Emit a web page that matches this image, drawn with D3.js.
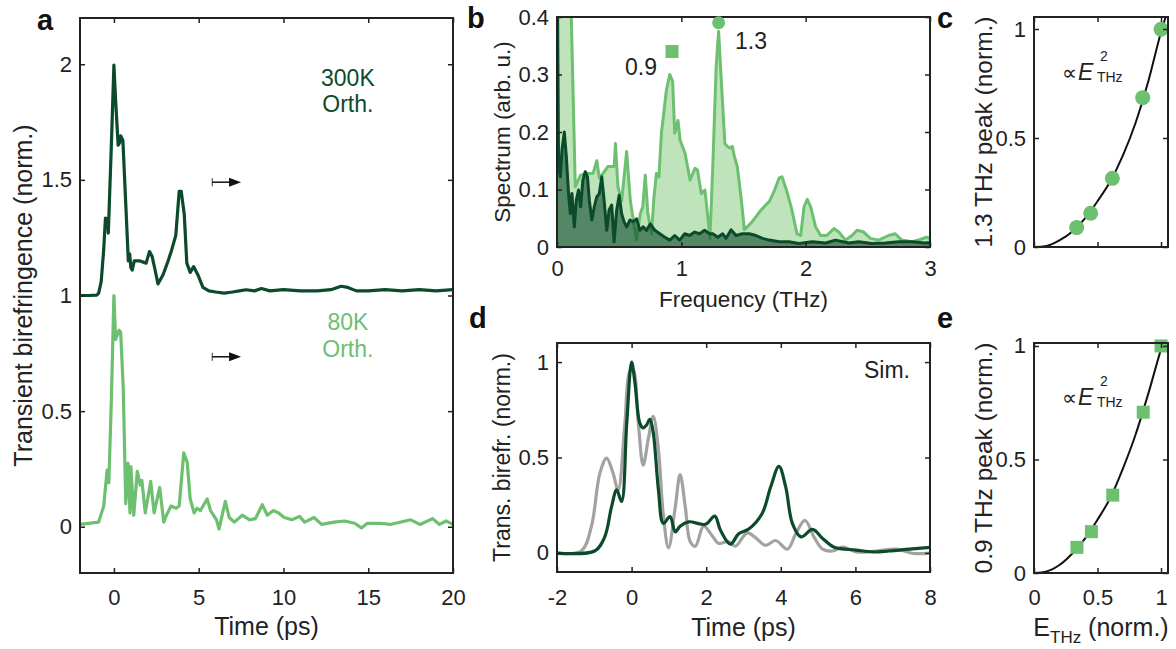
<!DOCTYPE html>
<html>
<head>
<meta charset="utf-8">
<script src="https://cdn.jsdelivr.net/npm/d3@7"></script>
<style>
  html, body { margin: 0; padding: 0; background: #fff; }
  svg { display: block; font-family: "Liberation Sans", Arial, sans-serif; }
</style>
</head>
<body>
<div id="chart"></div>
<script>
// ---- panel a : transient birefringence vs time ----
const a300Time = [-2, -1.5, -1.0, -0.9, -0.75, -0.6, -0.5, -0.38, -0.33, -0.16, 0, 0.1, 0.25, 0.33, 0.4, 0.53, 0.69, 0.85, 0.93, 1.0, 1.08, 1.2, 1.5, 1.9, 2.1, 2.25, 2.4, 2.6, 2.9, 3.2, 3.4, 3.65, 3.85, 3.97, 4.15, 4.3, 4.5, 4.7, 4.95, 5.25, 5.6, 6.0, 6.5, 7.0, 7.4, 7.8, 8.3, 8.7, 9.2, 10, 11, 12, 12.8, 13.4, 13.8, 14.3, 15, 16, 17, 18, 19, 20];
const a300Value = [1.0, 1.0, 1.002, 1.01, 1.06, 1.2, 1.335, 1.33, 1.27, 1.63, 1.996, 1.845, 1.65, 1.66, 1.69, 1.67, 1.41, 1.15, 1.18, 1.12, 1.11, 1.15, 1.15, 1.14, 1.19, 1.17, 1.12, 1.05, 1.09, 1.15, 1.195, 1.26, 1.45, 1.45, 1.35, 1.14, 1.10, 1.125, 1.09, 1.035, 1.02, 1.015, 1.01, 1.015, 1.02, 1.025, 1.02, 1.03, 1.02, 1.025, 1.02, 1.02, 1.025, 1.04, 1.035, 1.02, 1.02, 1.025, 1.02, 1.025, 1.02, 1.025];

const a80Time = [-2, -0.9, -0.6, -0.4, -0.3, -0.15, 0, 0.1, 0.3, 0.4, 0.55, 0.7, 0.83, 0.95, 1.0, 1.17, 1.38, 1.55, 1.65, 1.85, 2.17, 2.37, 2.7, 2.94, 3.1, 3.37, 3.67, 3.85, 4.12, 4.32, 4.5, 4.73, 4.9, 5.1, 5.5, 5.7, 6.05, 6.2, 6.57, 6.8, 7.1, 7.57, 8.0, 8.35, 8.75, 9.05, 9.4, 9.7, 10.05, 10.5, 10.95, 11.25, 11.8, 12.25, 13, 13.6, 14.2, 14.6, 14.95, 15.7, 16.3, 17.5, 18.05, 18.8, 19.2, 19.6, 20];
const a80Value = [0.01, 0.02, 0.09, 0.245, 0.19, 0.55, 1.0, 0.81, 0.85, 0.84, 0.6, 0.1, 0.275, 0.06, 0.26, 0.05, 0.24, 0.18, 0.2, 0.06, 0.196, 0.06, 0.17, 0.02, 0.05, 0.09, 0.08, 0.09, 0.32, 0.28, 0.12, 0.06, 0.08, 0.07, 0.12, 0.07, 0.03, -0.01, 0.11, 0.04, 0.02, 0.05, 0.03, 0.035, 0.095, 0.05, 0.07, 0.06, 0.04, 0.03, 0.045, 0.02, 0.04, 0.01, 0.02, 0.025, 0.015, -0.005, 0.015, 0.015, 0.01, 0.03, 0.01, 0.035, 0.01, 0.025, 0.01];

// ---- panel b : spectra ----
const b80Freq = [0, 0.105, 0.115, 0.147, 0.19, 0.24, 0.29, 0.32, 0.34, 0.37, 0.41, 0.46, 0.47, 0.49, 0.52, 0.56, 0.59, 0.61, 0.64, 0.67, 0.69, 0.71, 0.73, 0.76, 0.78, 0.80, 0.82, 0.84, 0.88, 0.907, 0.93, 0.947, 0.973, 0.99, 1.03, 1.07, 1.11, 1.13, 1.16, 1.19, 1.21, 1.23, 1.253, 1.28, 1.30, 1.315, 1.35, 1.37, 1.39, 1.41, 1.427, 1.45, 1.48, 1.507, 1.53, 1.57, 1.64, 1.71, 1.75, 1.787, 1.81, 1.85, 1.89, 1.93, 1.96, 1.987, 2.013, 2.04, 2.08, 2.12, 2.17, 2.227, 2.267, 2.32, 2.373, 2.413, 2.467, 2.52, 2.587, 2.667, 2.72, 2.773, 2.853, 2.92, 2.973, 3.0];
const b80Spec = [0.6, 0.6, 0.4, 0.105, 0.125, 0.128, 0.128, 0.15, 0.12, 0.128, 0.14, 0.14, 0.18, 0.105, 0.08, 0.166, 0.08, 0.052, 0.012, 0.058, 0.07, 0.125, 0.06, 0.023, 0.087, 0.128, 0.122, 0.198, 0.273, 0.30, 0.288, 0.198, 0.22, 0.186, 0.163, 0.116, 0.137, 0.134, 0.093, 0.099, 0.058, 0.015, 0.14, 0.314, 0.375, 0.314, 0.18, 0.175, 0.172, 0.175, 0.157, 0.14, 0.087, 0.03, 0.035, 0.044, 0.064, 0.08, 0.099, 0.12, 0.122, 0.096, 0.064, 0.023, 0.02, 0.07, 0.083, 0.07, 0.035, 0.02, 0.02, 0.032, 0.026, 0.012, 0.02, 0.029, 0.026, 0.015, 0.012, 0.02, 0.023, 0.012, 0.009, 0.013, 0.017, 0.015];

const b300Freq = [0, 0.005, 0.013, 0.027, 0.04, 0.059, 0.075, 0.093, 0.107, 0.12, 0.139, 0.155, 0.173, 0.19, 0.208, 0.227, 0.245, 0.26, 0.28, 0.30, 0.32, 0.34, 0.36, 0.379, 0.40, 0.419, 0.44, 0.459, 0.48, 0.50, 0.52, 0.539, 0.56, 0.587, 0.613, 0.64, 0.667, 0.693, 0.72, 0.75, 0.787, 0.827, 0.867, 0.907, 0.947, 0.987, 1.027, 1.067, 1.107, 1.147, 1.187, 1.227, 1.253, 1.293, 1.333, 1.36, 1.40, 1.44, 1.49, 1.547, 1.60, 1.653, 1.707, 1.787, 1.867, 1.947, 2.053, 2.16, 2.24, 2.347, 2.427, 2.533, 2.64, 2.747, 2.853, 2.96, 3.0];
const b300Spec = [0.6, 0.4, 0.14, 0.122, 0.169, 0.2, 0.157, 0.093, 0.058, 0.093, 0.035, 0.081, 0.099, 0.07, 0.116, 0.131, 0.122, 0.081, 0.047, 0.07, 0.087, 0.093, 0.122, 0.081, 0.029, 0.064, 0.073, 0.009, 0.064, 0.09, 0.058, 0.044, 0.035, 0.047, 0.044, 0.049, 0.029, 0.035, 0.029, 0.04, 0.029, 0.023, 0.017, 0.012, 0.02, 0.012, 0.023, 0.02, 0.026, 0.023, 0.029, 0.023, 0.023, 0.017, 0.023, 0.015, 0.03, 0.02, 0.023, 0.023, 0.02, 0.015, 0.012, 0.009, 0.009, 0.006, 0.009, 0.007, 0.012, 0.007, 0.009, 0.006, 0.007, 0.009, 0.009, 0.007, 0.008];

const bPeakSquare = [0.925, 0.34];
const bPeakCircle = [1.3, 0.39];

// ---- panels c & e : peak amplitude vs field ----
const cField = [0.336, 0.446, 0.617, 0.856, 1.0];
const cPeak = [0.089, 0.155, 0.315, 0.685, 0.999];
const cFitField = [0, 0.1, 0.2, 0.3, 0.4, 0.5, 0.6, 0.7, 0.8, 0.9, 1.0, 1.05];
const cFitPeak = [0, 0.005, 0.03, 0.07, 0.13, 0.21, 0.3, 0.42, 0.57, 0.76, 0.985, 1.08];

const eField = [0.338, 0.452, 0.62, 0.86, 1.0];
const ePeak = [0.113, 0.182, 0.343, 0.708, 1.0];
const eFitField = [0, 0.1, 0.2, 0.3, 0.4, 0.5, 0.6, 0.7, 0.8, 0.9, 1.0, 1.05];
const eFitPeak = [0, 0.007, 0.035, 0.085, 0.15, 0.235, 0.33, 0.46, 0.61, 0.79, 0.985, 1.07];

// ---- panel d : simulation ----
const dSimTime = [-2.07, -0.99, -0.72, -0.54, -0.4, -0.27, -0.13, 0, 0.09, 0.22, 0.31, 0.4, 0.49, 0.58, 0.72, 0.85, 1.03, 1.17, 1.3, 1.53, 1.98, 2.23, 2.38, 2.65, 2.87, 3.14, 3.5, 3.73, 3.95, 4.13, 4.31, 4.54, 4.85, 5.12, 5.43, 6.02, 6.47, 6.9, 7.45, 8.04];
const dSimValue = [0, 0.01, 0.084, 0.24, 0.33, 0.27, 0.68, 1.0, 0.89, 0.68, 0.655, 0.67, 0.70, 0.63, 0.33, 0.155, 0.19, 0.11, 0.14, 0.163, 0.15, 0.193, 0.12, 0.046, 0.1, 0.125, 0.207, 0.347, 0.453, 0.347, 0.155, 0.084, 0.123, 0.076, 0.03, 0.015, 0.005, 0.01, 0.02, 0.03];
const dRefTime = [-2.07, -1.35, -1.08, -0.85, -0.67, -0.5, -0.36, -0.18, -0.05, 0.04, 0.18, 0.31, 0.45, 0.58, 0.72, 0.85, 0.99, 1.17, 1.3, 1.44, 1.57, 1.71, 1.93, 2.16, 2.33, 2.6, 2.78, 3.1, 3.32, 3.59, 3.86, 4.18, 4.4, 4.65, 4.9, 5.12, 5.39, 5.66, 6.02, 6.56, 7.1, 7.55, 8.04];
const dRefValue = [0, 0.01, 0.137, 0.418, 0.497, 0.42, 0.33, 0.68, 0.95, 0.96, 0.68, 0.46, 0.6, 0.716, 0.54, 0.2, 0.026, 0.24, 0.41, 0.24, 0.06, 0.035, 0.14, 0.09, 0.05, 0.06, 0.035, 0.105, 0.08, 0.04, 0.065, 0.02, 0.1, 0.17, 0.08, 0.02, 0.01, 0.03, 0.005, 0.01, 0.02, -0.003, 0];

const darkGreen = '#0c4a2c';
const lightGreen = '#6cc070';
const grey = '#a2a2a2';
const ink = '#222';

const svg = d3.select('#chart').append('svg')
  .attr('width', 1176)
  .attr('height', 649);
svg.append('rect').attr('width', 1176).attr('height', 649).attr('fill', '#fff');

const zip = (xs, ys) => xs.map((v, i) => [v, ys[i]]);
let clipId = 0;

function makePanel(box, xDomain, yDomain) {
  const w = box.right - box.left;
  const h = box.bottom - box.top;
  const g = svg.append('g').attr('transform', `translate(${box.left},${box.top})`);
  const x = d3.scaleLinear().domain(xDomain).range([0, w]);
  const y = d3.scaleLinear().domain(yDomain).range([h, 0]);
  const id = 'clip' + (clipId++);
  g.append('clipPath').attr('id', id).append('rect').attr('width', w).attr('height', h);
  const plot = g.append('g').attr('clip-path', `url(#${id})`);
  return { g, plot, x, y, w, h, box };
}

function drawAxes(p, xTicks, yTicks, showXLabels, xPad) {
  const fmt = d => String(d);
  const styleAxis = sel => {
    sel.select('.domain').remove();
    sel.selectAll('line').attr('stroke', ink).attr('stroke-width', 1.5);
    sel.selectAll('text').attr('font-size', 22).attr('fill', ink)
      .attr('font-family', '"Liberation Sans", Arial, sans-serif');
  };
  p.g.append('g').attr('transform', `translate(0,${p.h})`)
    .call(d3.axisBottom(p.x).tickValues(xTicks).tickSizeInner(-5).tickSizeOuter(0)
      .tickPadding(xPad).tickFormat(showXLabels ? fmt : ''))
    .call(styleAxis);
  p.g.append('g')
    .call(d3.axisTop(p.x).tickValues(xTicks).tickSizeInner(-5).tickSizeOuter(0).tickFormat(''))
    .call(styleAxis);
  p.g.append('g')
    .call(d3.axisLeft(p.y).tickValues(yTicks).tickSizeInner(-5).tickSizeOuter(0)
      .tickPadding(8).tickFormat(fmt))
    .call(styleAxis);
  p.g.append('g').attr('transform', `translate(${p.w},0)`)
    .call(d3.axisRight(p.y).tickValues(yTicks).tickSizeInner(-5).tickSizeOuter(0).tickFormat(''))
    .call(styleAxis);
  p.g.append('rect')
    .attr('width', p.w).attr('height', p.h)
    .attr('fill', 'none').attr('stroke', ink).attr('stroke-width', 2);
}

function drawLine(p, pts, color, width, curve) {
  p.plot.append('path')
    .datum(pts)
    .attr('fill', 'none')
    .attr('stroke', color)
    .attr('stroke-width', width)
    .attr('stroke-linejoin', 'round')
    .attr('d', d3.line().x(d => p.x(d[0])).y(d => p.y(d[1])).curve(curve || d3.curveLinear));
}

function yLabel(p, text, baselineX, size) {
  svg.append('text')
    .attr('transform', `translate(${baselineX},${p.box.top + p.h / 2}) rotate(-90)`)
    .attr('text-anchor', 'middle')
    .attr('font-size', size).attr('fill', ink)
    .text(text);
}

function xLabel(p, text, baselineY, size) {
  svg.append('text')
    .attr('x', p.box.left + p.w / 2).attr('y', baselineY)
    .attr('text-anchor', 'middle')
    .attr('font-size', size).attr('fill', ink)
    .text(text);
}

function panelLetter(letter, x, y) {
  svg.append('text').attr('x', x).attr('y', y)
    .attr('font-size', 29).attr('font-weight', 'bold').attr('fill', '#111')
    .text(letter);
}

function note(x, y, text, color) {
  svg.append('text').attr('x', x).attr('y', y).attr('text-anchor', 'middle')
    .attr('font-size', 23).attr('fill', color || ink).text(text);
}

// "∝ E^2_THz" built from separate pieces so sub/superscript stack
function propLabel(p, fx, fy) {
  const px = p.box.left + p.x(fx);
  const py = p.box.top + p.y(fy);
  svg.append('text').attr('x', px).attr('y', py).attr('font-size', 21).attr('fill', ink).text('\u221D');
  svg.append('text').attr('x', px + 16).attr('y', py).attr('font-size', 23)
    .attr('font-style', 'italic').attr('fill', ink).text('E');
  svg.append('text').attr('x', px + 38).attr('y', py - 19).attr('font-size', 14).attr('fill', ink).text('2');
  svg.append('text').attr('x', px + 35).attr('y', py + 2).attr('font-size', 14).attr('fill', ink).text('THz');
}

// ======== panel a ========
const pa = makePanel({ left: 80, right: 453, top: 18, bottom: 573 }, [-2, 20], [-0.2, 2.2]);
drawLine(pa, zip(a80Time, a80Value), lightGreen, 3.2);
drawLine(pa, zip(a300Time, a300Value), darkGreen, 3.2);
drawAxes(pa, [0, 5, 10, 15, 20], [0, 0.5, 1, 1.5, 2], true, 16);
yLabel(pa, 'Transient birefringence (norm.)', 32, 25);
xLabel(pa, 'Time (ps)', 635, 25);
panelLetter('a', 37, 30);

// arrows
[1.49, 0.735].forEach(v => {
  const yy = pa.y(v);
  const x0 = pa.x(5.8), x1 = pa.x(7.5);
  pa.g.append('line').attr('x1', x0).attr('x2', x0).attr('y1', yy - 4).attr('y2', yy + 4)
    .attr('stroke', '#333').attr('stroke-width', 1);
  pa.g.append('line').attr('x1', x0).attr('x2', x1 - 10).attr('y1', yy).attr('y2', yy)
    .attr('stroke', '#111').attr('stroke-width', 1.5);
  pa.g.append('path').attr('d', `M${x1 - 12},${yy - 4.5}L${x1},${yy}L${x1 - 12},${yy + 4.5}Z`).attr('fill', '#111');
});

note(pa.box.left + pa.x(13.8), 86, '300K', darkGreen);
note(pa.box.left + pa.x(13.8), 112, 'Orth.', darkGreen);
note(pa.box.left + pa.x(13.8), 330, '80K', lightGreen);
note(pa.box.left + pa.x(13.8), 357, 'Orth.', lightGreen);

// ======== panel b ========
const pb = makePanel({ left: 557, right: 930, top: 17, bottom: 247 }, [0, 3], [0, 0.4]);
const areaB = d3.area().x(d => pb.x(d[0])).y0(pb.y(0)).y1(d => pb.y(d[1]));
pb.plot.append('path').datum(zip(b80Freq, b80Spec)).attr('fill', '#bfe4bb').attr('d', areaB);
drawLine(pb, zip(b80Freq, b80Spec), lightGreen, 3);
pb.plot.append('path').datum(zip(b300Freq, b300Spec)).attr('fill', darkGreen).attr('fill-opacity', 0.6).attr('d', areaB);
drawLine(pb, zip(b300Freq, b300Spec), darkGreen, 3);
drawAxes(pb, [0, 1, 2, 3], [0, 0.1, 0.2, 0.3, 0.4], true, 13);
pb.g.append('rect')
  .attr('x', pb.x(bPeakSquare[0]) - 6.5).attr('y', pb.y(bPeakSquare[1]) - 6.5)
  .attr('width', 13).attr('height', 13).attr('fill', lightGreen);
pb.g.append('circle')
  .attr('cx', pb.x(bPeakCircle[0])).attr('cy', pb.y(bPeakCircle[1]))
  .attr('r', 6.5).attr('fill', lightGreen);
note(641, 75, '0.9');
note(751, 49, '1.3');
yLabel(pb, 'Spectrum (arb. u.)', 510, 22.5);
xLabel(pb, 'Frequency (THz)', 307, 22.5);
panelLetter('b', 467, 28);

// ======== panel c ========
const pc = makePanel({ left: 1034, right: 1168, top: 17, bottom: 247 }, [0, 1.055], [0, 1.055]);
drawLine(pc, zip(cFitField, cFitPeak), '#111', 2, d3.curveMonotoneX);
pc.g.selectAll('circle.pt').data(zip(cField, cPeak)).enter().append('circle')
  .attr('cx', d => pc.x(d[0])).attr('cy', d => pc.y(d[1]))
  .attr('r', 7.5).attr('fill', lightGreen);
drawAxes(pc, [0, 0.5, 1], [0, 0.5, 1], false, 16);
propLabel(pc, 0.22, 0.766);
yLabel(pc, '1.3 THz peak (norm.)', 992, 24.5);
panelLetter('c', 937, 28);

// ======== panel d ========
const pd = makePanel({ left: 557, right: 930, top: 343, bottom: 572 }, [-2, 8], [-0.1, 1.1]);
drawLine(pd, zip(dRefTime, dRefValue), grey, 3.2, d3.curveCatmullRom);
drawLine(pd, zip(dSimTime, dSimValue), darkGreen, 3.2, d3.curveCatmullRom);
drawAxes(pd, [-2, 0, 2, 4, 6, 8], [0, 0.5, 1], true, 17);
note(887, 378, 'Sim.');
yLabel(pd, 'Trans. birefr. (norm.)', 510, 23);
xLabel(pd, 'Time (ps)', 636, 25);
panelLetter('d', 469, 328);

// ======== panel e ========
const pe = makePanel({ left: 1034, right: 1168, top: 343, bottom: 573 }, [0, 1.055], [0, 1.013]);
drawLine(pe, zip(eFitField, eFitPeak), '#111', 2, d3.curveMonotoneX);
pe.g.selectAll('rect.pt').data(zip(eField, ePeak)).enter().append('rect')
  .attr('x', d => pe.x(d[0]) - 6.5).attr('y', d => pe.y(d[1]) - 6.5)
  .attr('width', 13).attr('height', 13).attr('fill', lightGreen);
drawAxes(pe, [0, 0.5, 1], [0, 0.5, 1], true, 16);
propLabel(pe, 0.22, 0.74);
yLabel(pe, '0.9 THz peak (norm.)', 992, 24.5);
const ex = svg.append('text').attr('x', pe.box.left + pe.w / 2).attr('y', 636)
  .attr('text-anchor', 'middle').attr('font-size', 25).attr('fill', ink);
ex.append('tspan').text('E');
ex.append('tspan').attr('font-size', 17).attr('dy', 7).text('THz');
ex.append('tspan').attr('dy', -7).text(' (norm.)');
panelLetter('e', 937, 328);
</script>
</body>
</html>
